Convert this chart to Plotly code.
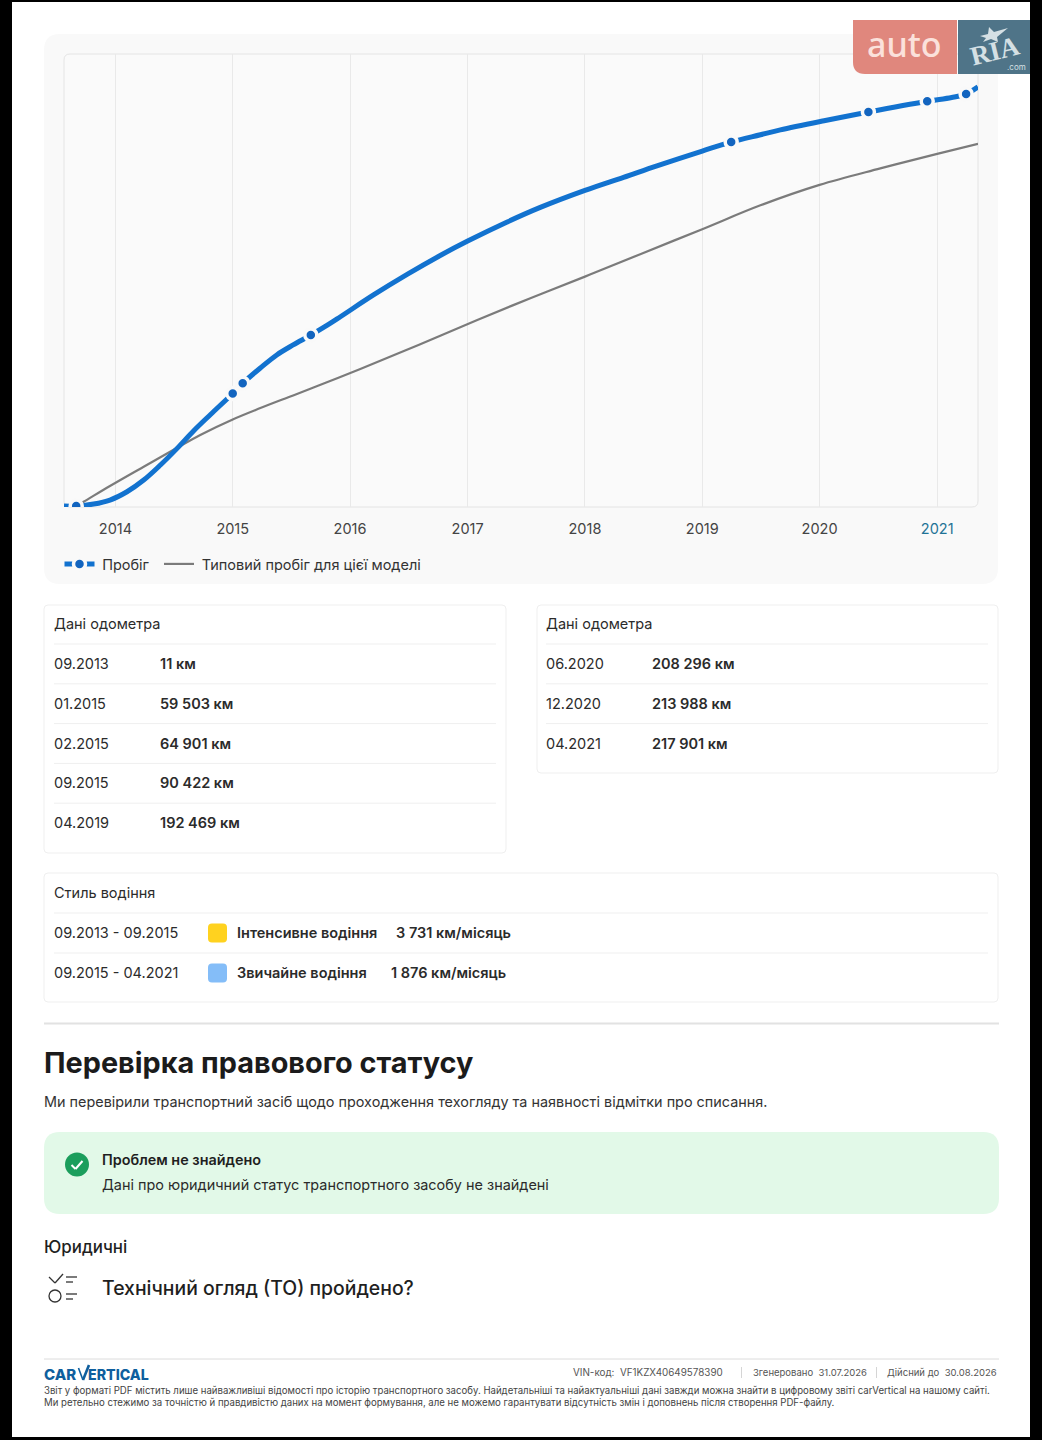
import plotly.graph_objects as go

W, H = 1042, 1440
FONT = "Inter"

# odometer readings
reading_dates = ["2013-09-01", "2015-01-01", "2015-02-01", "2015-09-01",
                 "2019-04-01", "2020-06-01", "2020-12-01", "2021-04-01"]
reading_km = [11, 59503, 64901, 90422, 192469, 208296, 213988, 217901]

# mileage curve
mileage_dates = ["2013-07-25", "2013-09-01", "2013-10-25", "2013-12-15", "2014-02-06", "2014-03-30",
                 "2014-05-21", "2014-07-12", "2014-09-01", "2014-10-24", "2015-01-01", "2015-02-01",
                 "2015-03-28", "2015-05-18", "2015-07-08", "2015-09-01", "2015-10-21", "2015-12-02",
                 "2016-03-14", "2016-06-28", "2016-10-09", "2017-01-01", "2017-05-04", "2017-08-15",
                 "2018-01-01", "2018-05-01", "2018-08-13", "2019-01-01", "2019-04-01", "2019-07-01",
                 "2019-09-01", "2020-01-15", "2020-06-01", "2020-12-01", "2021-02-15", "2021-04-01",
                 "2021-05-08"]
mileage_km = [0, 11, 1060, 3170, 7560, 13750, 21700, 30500, 39700, 48400, 59503, 64901,
              73000, 79900, 85200, 90422, 95500, 100100, 111600, 122600, 132600, 140100,
              150200, 157900, 166900, 173800, 179900, 187700, 192469, 196300, 198900,
              203700, 208296, 213988, 216000, 217901, 221600]

typical_dates = ["2013-09-01", "2013-09-24", "2013-12-15", "2014-03-30", "2014-07-12", "2014-09-22",
                 "2015-01-01", "2015-03-28", "2015-07-08", "2015-10-21", "2016-02-02", "2016-08-01",
                 "2017-01-31", "2017-07-17", "2018-01-01", "2018-06-24", "2019-01-01", "2019-07-01",
                 "2020-01-01", "2020-07-08", "2021-01-01", "2021-05-08"]
typical_km = [11, 2270, 10600, 20800, 30800, 37600, 45800, 51800, 58500, 65400, 72500, 85200,
              98400, 110000, 121300, 133300, 146400, 159000, 169800, 178500, 186200, 191500]

tick_years = [2014, 2015, 2016, 2017, 2018, 2019, 2020, 2021]

# tables
table_title = "Дані одометра"
left_dates = ["09.2013", "01.2015", "02.2015", "09.2015", "04.2019"]
left_values = ["11 км", "59 503 км", "64 901 км", "90 422 км", "192 469 км"]
right_dates = ["06.2020", "12.2020", "04.2021"]
right_values = ["208 296 км", "213 988 км", "217 901 км"]
style_periods = ["09.2013 - 09.2015", "09.2015 - 04.2021"]
style_names = ["Інтенсивне водіння", "Звичайне водіння"]
style_rates = ["3 731 км/місяць", "1 876 км/місяць"]
style_colors = ["#ffd21f", "#84bdf8"]


def px(x):
    return x / W


def py(y):
    return 1 - y / H


def round_path(x0, y0, x1, y1, r, corners="tl tr br bl"):
    # rounded rectangle in paper coordinates, given in page pixels
    c = corners.split()
    rx, ry = r / W, r / H
    l, r_, t, b = px(x0), px(x1), py(y0), py(y1)
    p = f"M{l + (rx if 'tl' in c else 0)},{t} L{r_ - (rx if 'tr' in c else 0)},{t} "
    if "tr" in c:
        p += f"Q{r_},{t} {r_},{t - ry} "
    p += f"L{r_},{b + (ry if 'br' in c else 0)} "
    if "br" in c:
        p += f"Q{r_},{b} {r_ - rx},{b} "
    p += f"L{l + (rx if 'bl' in c else 0)},{b} "
    if "bl" in c:
        p += f"Q{l},{b} {l},{b + ry} "
    p += f"L{l},{t - (ry if 'tl' in c else 0)} "
    if "tl" in c:
        p += f"Q{l},{t} {l + rx},{t} "
    return p + "Z"


shapes = []
annotations = []


def box(x0, y0, x1, y1, r=0, fill="rgba(0,0,0,0)", line="rgba(0,0,0,0)", width=1,
        layer="below", corners="tl tr br bl", opacity=1):
    shapes.append(dict(type="path", xref="paper", yref="paper",
                       path=round_path(x0, y0, x1, y1, r, corners), fillcolor=fill,
                       line=dict(color=line, width=width), layer=layer, opacity=opacity))


def hline(x0, x1, y, color="#efefef", width=1, layer="below"):
    shapes.append(dict(type="line", xref="paper", yref="paper", x0=px(x0), x1=px(x1),
                       y0=py(y), y1=py(y), line=dict(color=color, width=width), layer=layer))


def seg(x0, y0, x1, y1, color, width, layer="below"):
    shapes.append(dict(type="line", xref="paper", yref="paper", x0=px(x0), x1=px(x1),
                       y0=py(y0), y1=py(y1), line=dict(color=color, width=width), layer=layer))


def circle(cx, cy, r, fill="rgba(0,0,0,0)", line="rgba(0,0,0,0)", width=1, layer="below"):
    shapes.append(dict(type="circle", xref="paper", yref="paper", x0=px(cx - r), x1=px(cx + r),
                       y0=py(cy - r), y1=py(cy + r), fillcolor=fill,
                       line=dict(color=line, width=width), layer=layer))


def label(x, y, text, size=14.5, color="#2b2b2b", weight=400, anchor="left", family=FONT,
          angle=0):
    annotations.append(dict(xref="paper", yref="paper", x=px(x - 1), y=py(y - 0.5), text=text,
                            showarrow=False, xanchor=anchor, yanchor="middle", align=anchor,
                            borderpad=0, textangle=angle,
                            font=dict(family=family, size=size, color=color, weight=weight)))


# page frame
box(12, 2, 1030, 1437, fill="#ffffff")

# chart panel
box(44, 34, 998, 584, r=16, fill="#f9f9f9")
box(64, 54, 978, 507, r=6, fill="#fafafa", line="#e4e4e4", width=1)

# odometer cards
box(44, 605, 506, 853, r=4, fill="#ffffff", line="#efefef")
label(54, 624, table_title)
for i, (d, v) in enumerate(zip(left_dates, left_values)):
    y = 664 + i * 39.8
    hline(54, 496, y - 20)
    label(54, y, d)
    label(160, y, v, weight=600)

box(537, 605, 998, 773, r=4, fill="#ffffff", line="#efefef")
label(546, 624, table_title)
for i, (d, v) in enumerate(zip(right_dates, right_values)):
    y = 664 + i * 39.8
    hline(546, 988, y - 20)
    label(546, y, d)
    label(652, y, v, weight=600)

# driving style card
box(44, 873, 998, 1002, r=4, fill="#ffffff", line="#efefef")
label(54, 893, "Стиль водіння")
style_rate_x = [396, 391]
for i in range(2):
    y = 933 + i * 40
    hline(54, 988, y - 20)
    label(54, y, style_periods[i])
    box(208, y - 9.5, 227, y + 9.5, r=4, fill=style_colors[i])
    label(237, y, style_names[i], weight=600)
    label(style_rate_x[i], y, style_rates[i], weight=600)

hline(44, 999, 1023.5, color="#e2e2e2", width=2)

# legal status section
label(43.5, 1063, "Перевірка правового статусу", size=28.85, color="#1b1b1b", weight=700)
label(43.5, 1102, "Ми перевірили транспортний засіб щодо проходження техогляду та наявності відмітки про списання.",
      size=14.42, color="#333333")
box(44, 1132, 999, 1214, r=16, fill="#e2f9e8")
circle(77, 1164.5, 12, fill="#1b9e5c")
seg(71.5, 1165, 75.5, 1169, "#ffffff", 2)
seg(75.5, 1169, 82.5, 1161, "#ffffff", 2)
label(101.5, 1160, "Проблем не знайдено", size=14.4, weight=600, color="#1f1f1f")
label(101.5, 1185, "Дані про юридичний статус транспортного засобу не знайдені", size=14.44)
label(43.5, 1247, "Юридичні", size=16.9, color="#1f1f1f", weight=500)
label(101.5, 1288, "Технічний огляд (ТО) пройдено?", size=19.4, color="#1f1f1f", weight=500)
seg(49, 1277, 55, 1283, "#333333", 1.3)
seg(55, 1283, 63, 1274, "#333333", 1.3)
seg(66, 1277, 77, 1277, "#333333", 1.3)
seg(66, 1282, 73, 1282, "#333333", 1.3)
circle(55, 1296, 6, line="#333333", width=1.3)
seg(66, 1294, 77, 1294, "#333333", 1.3)
seg(66, 1299, 73, 1299, "#333333", 1.3)

# footer
hline(44, 999, 1359, color="#dcdcdc")
logo_blue = "#0f5f9e"
label(44, 1374.5, "CAR", size=15, color=logo_blue, weight=800)
seg(78.5, 1368, 83, 1380, logo_blue, 1.6)
seg(83, 1380, 89, 1365, logo_blue, 2.6)
label(88, 1374.5, "ERTICAL", size=14.2, color=logo_blue, weight=800)
label(573, 1372.5, "VIN-код:  VF1KZX40649578390", size=9.85, color="#555555")
seg(741.5, 1367, 741.5, 1378, "#d5d5d5", 1)
label(753, 1372.5, "Згенеровано  31.07.2026", size=9.5, color="#555555")
seg(876.5, 1367, 876.5, 1378, "#d5d5d5", 1)
label(999, 1372.5, "Дійсний до  30.08.2026", size=9.5, color="#555555", anchor="right")
label(44, 1390.5, "Звіт у форматі PDF містить лише найважливіші відомості про історію транспортного засобу. "
      "Найдетальніші та найактуальніші дані завжди можна знайти в цифровому звіті carVertical на нашому сайті.",
      size=9.62, color="#444444")
label(44, 1402.5, "Ми ретельно стежимо за точністю й правдивістю даних на момент формування, але не можемо "
      "гарантувати відсутність змін і доповнень після створення PDF-файлу.", size=9.62, color="#444444")

# auto.ria watermark
box(853, 20, 957, 74, r=12, fill="#e0877d", layer="above", corners="bl")
box(958, 20, 1030, 74, fill="#4f7488", layer="above")
label(905.5, 45, "auto", size=34, color="#fbe1db", weight=500, anchor="center", family="Noto Sans")
label(996, 51.5, "RIA", size=27, color="#d5e0e4", weight=700, anchor="center", family="Liberation Serif", angle=-14)
label(1028, 67.5, ".com", size=8, color="#d5e0e4", anchor="right")
shapes.append(dict(type="path", xref="paper", yref="paper", layer="above", fillcolor="#d5e0e4",
                   line=dict(width=0),
                   path=f"M{px(980)},{py(36)} L{px(988)},{py(34)} L{px(989)},{py(27)} L{px(994)},{py(32)} "
                        f"L{px(1008)},{py(28)} L{px(997)},{py(37)} L{px(998)},{py(42)} L{px(991)},{py(39)} "
                        f"L{px(983)},{py(42)} L{px(986)},{py(38)} Z"))

fig = go.Figure()
fig.add_trace(go.Scatter(x=typical_dates, y=typical_km, mode="lines", name="\u2009Типовий пробіг для цієї моделі",
                         line=dict(color="#7b7b7b", width=2.2, shape="spline", smoothing=1),
                         legend="legend2", hoverinfo="skip"))
fig.add_trace(go.Scatter(x=mileage_dates, y=mileage_km, mode="lines", showlegend=False,
                         line=dict(color="#1272cf", width=5, shape="spline", smoothing=1),
                         hoverinfo="skip"))
fig.add_trace(go.Scatter(x=reading_dates, y=reading_km, mode="markers", showlegend=False,
                         marker=dict(color="#1264bf", size=12, line=dict(color="#f9f9f9", width=3.5))))
# empty trace, only there to give the legend a line-and-dot symbol
fig.add_trace(go.Scatter(x=[None], y=[None], mode="lines+markers", name="\u2009Пробіг",
                         line=dict(color="#1272cf", width=5),
                         marker=dict(color="#1264bf", size=12, line=dict(color="#f9f9f9", width=3.5))))

tick_text = [str(t) for t in tick_years]
tick_text[-1] = '<span style="color:#1f7396">2021</span>'
legend_font = dict(family=FONT, size=14.5, color="#333333")

fig.update_layout(
    width=W, height=H,
    margin=dict(l=0, r=0, t=0, b=0),
    paper_bgcolor="#000000",
    plot_bgcolor="rgba(0,0,0,0)",
    font=dict(family=FONT, size=14.5, color="#444444"),
    shapes=shapes,
    annotations=annotations,
    legend=dict(x=px(59.5), y=py(564), xanchor="left", yanchor="middle",
                bgcolor="rgba(0,0,0,0)", font=legend_font, itemwidth=30),
    legend2=dict(x=px(159), y=py(564), xanchor="left", yanchor="middle",
                 bgcolor="rgba(0,0,0,0)", font=legend_font, itemwidth=30),
    xaxis=dict(domain=[px(64), px(978)], type="date", range=["2013-07-25", "2021-05-08"],
               tickvals=[f"{t}-01-01" for t in tick_years], ticktext=tick_text,
               ticks="outside", ticklen=9, tickcolor="rgba(0,0,0,0)",
               showgrid=True, gridcolor="#e9e9e9", gridwidth=1, zeroline=False,
               showline=False, tickfont=dict(family=FONT, size=14.5, color="#444444")),
    yaxis=dict(domain=[py(507), py(54)], range=[-500, 239000], showgrid=False,
               zeroline=False, showticklabels=False, ticks="", showline=False),
)

fig.write_html("out.html", config={"displayModeBar": False},
               post_script="document.body.style.margin='0';document.body.style.overflow='hidden';")
